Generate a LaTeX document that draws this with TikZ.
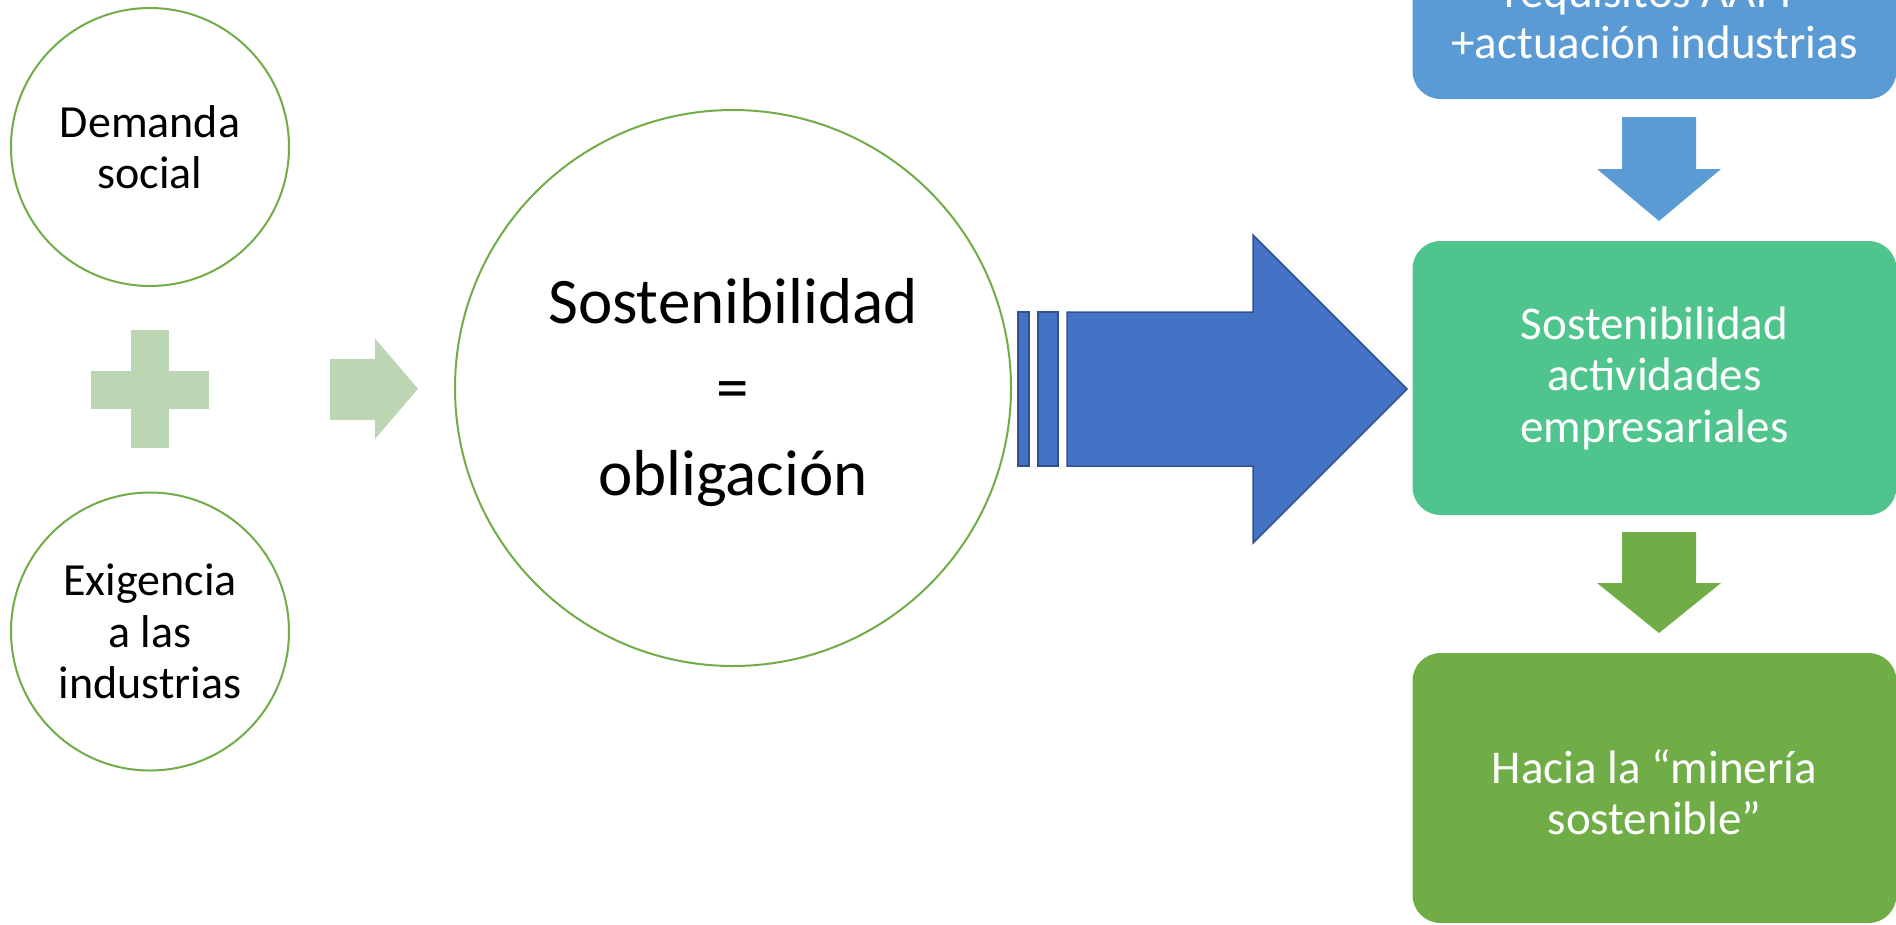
\documentclass[tikz,border=0pt]{standalone}
\usepackage{fontspec}
\setmainfont{Carlito}
\definecolor{cgreen}{HTML}{70AD47}
\definecolor{cpale}{HTML}{BCD6B4}
\definecolor{cblue}{HTML}{4472C4}
\definecolor{cbluedark}{HTML}{2F528F}
\definecolor{csky}{HTML}{5B9BD5}
\definecolor{cmint}{HTML}{4FC58D}
\begin{document}
\begin{tikzpicture}[x=1pt,y=-1pt,
  circ/.style={circle, draw=cgreen, line width=2pt, fill=white, minimum size=278pt, inner sep=0pt, align=center, font=\fontsize{46}{51.5}\selectfont},
  box/.style={rounded corners=28pt, minimum width=484pt, minimum height=274pt, inner sep=0pt, align=center, text=white, font=\fontsize{47}{51.5}\selectfont},
  boxtext/.style={align=center, text=white, inner sep=0pt, font=\fontsize{47}{51.5}\selectfont}]
\useasboundingbox (0,0) rectangle (1896,924);
\clip (0,0) rectangle (1896,924);
% left circles
\node[circ] (dem) at (150,147) {Demanda\\social};
\node[circ] (exi) at (150,631.5) {Exigencia\\a las\\industrias};
% plus sign
\fill[cpale] (91,371) rectangle (209,409);
\fill[cpale] (131,330) rectangle (169,448);
% small arrow
\fill[cpale] (330,359) -- (375,359) -- (375,338.5) -- (418,388.75) -- (375,439) -- (375,420) -- (330,420) -- cycle;
% big circle
\node[circ, minimum size=556pt] (sos) at (733,388) {};
\node[align=center, inner sep=0pt, font=\fontsize{65}{86}\selectfont] (sostxt) at (733,393) {Sostenibilidad\\=\\obligación};
% big arrow
\begin{scope}[fill=cblue, draw=cbluedark, line width=1.5pt]
\filldraw (1018,312) rectangle (1029,466);
\filldraw (1038,312) rectangle (1058,466);
\filldraw (1067,312) -- (1253,312) -- (1253,235) -- (1407,389) -- (1253,543) -- (1253,466) -- (1067,466) -- cycle;
\end{scope}
% right column
\node[box, fill=csky] (top) at (1654.5,-38) {};
\node[boxtext] (toptxt) at (1654.5,17) {requisitos AAPP\\+actuación industrias};
\node[box, fill=cmint] (mid) at (1654.5,378) {Sostenibilidad\\actividades\\empresariales};
\node[box, fill=cgreen, minimum height=270pt] (bot) at (1654.5,788) {};
\node[boxtext] (bottxt) at (1654.5,792) {Hacia la “minería\\sostenible”};
% down arrows
\fill[csky] (1622,117) -- (1696,117) -- (1696,169) -- (1721,169) -- (1659,221) -- (1597,169) -- (1622,169) -- cycle;
\fill[cgreen] (1622,532) -- (1696,532) -- (1696,583) -- (1721,583) -- (1659,633) -- (1597,583) -- (1622,583) -- cycle;
\end{tikzpicture}
\end{document}
